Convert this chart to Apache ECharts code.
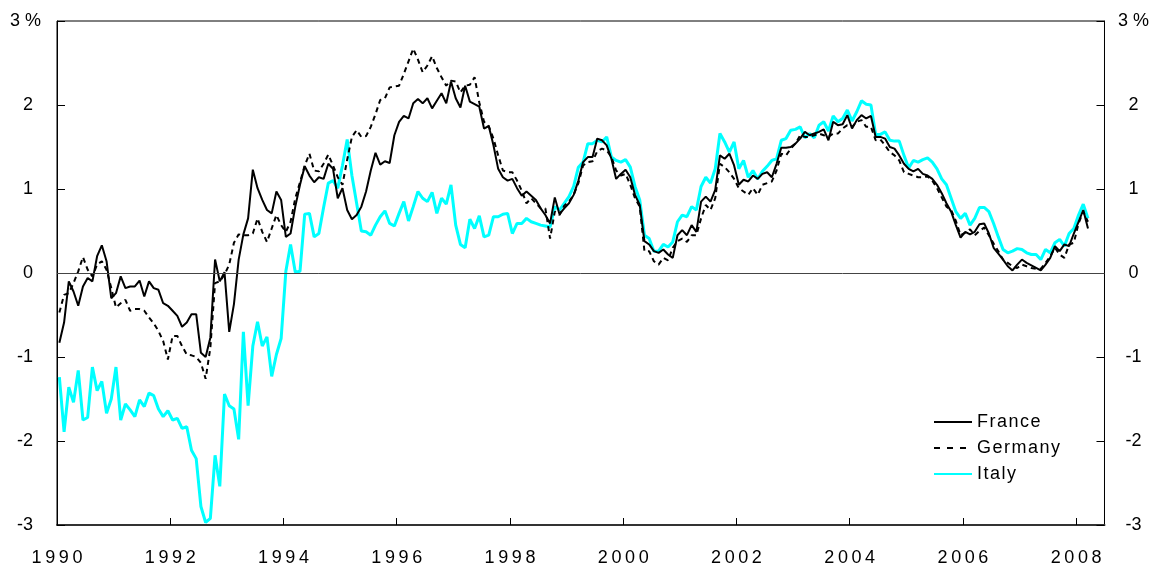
<!DOCTYPE html>
<html>
<head>
<meta charset="utf-8">
<script src="https://cdn.jsdelivr.net/npm/echarts@6/dist/echarts.min.js"></script>
<style>
html,body{margin:0;padding:0;background:#fff;}
#chart{width:1152px;height:567px;}
</style>
</head>
<body>
<div id="chart"></div>
<script>
// Monthly values, Jan 1990 .. Mar 2008 (percent)
const startYear = 1990;
const france = [
-0.83,-0.59,-0.10,-0.22,-0.39,-0.16,-0.06,-0.10,0.20,0.33,
0.14,-0.30,-0.24,-0.04,-0.18,-0.16,-0.16,-0.09,-0.28,-0.10,
-0.18,-0.20,-0.36,-0.39,-0.45,-0.51,-0.64,-0.59,-0.49,-0.49,
-0.95,-1.00,-0.77,0.16,-0.10,0.01,-0.70,-0.37,0.16,0.46,
0.65,1.23,1.01,0.87,0.75,0.71,0.97,0.87,0.43,0.47,
0.79,1.05,1.27,1.16,1.08,1.14,1.12,1.30,1.24,0.89,
1.01,0.75,0.64,0.69,0.79,0.97,1.22,1.43,1.29,1.33,
1.31,1.64,1.80,1.87,1.84,2.02,2.07,2.02,2.08,1.96,
2.05,2.14,2.02,2.28,2.08,1.97,2.23,2.04,2.01,1.98,
1.72,1.75,1.52,1.24,1.14,1.10,1.12,1.01,0.92,0.97,
0.92,0.87,0.77,0.69,0.59,0.90,0.70,0.77,0.83,0.93,
1.10,1.32,1.38,1.38,1.60,1.58,1.52,1.36,1.12,1.18,
1.23,1.14,0.93,0.81,0.38,0.34,0.26,0.24,0.28,0.22,
0.18,0.45,0.51,0.45,0.57,0.49,0.85,0.91,0.85,0.99,
1.40,1.36,1.42,1.28,1.05,1.11,1.09,1.16,1.12,1.18,
1.20,1.14,1.30,1.49,1.49,1.50,1.54,1.60,1.68,1.64,
1.66,1.68,1.71,1.58,1.80,1.76,1.77,1.88,1.72,1.82,
1.88,1.84,1.87,1.62,1.62,1.60,1.50,1.48,1.40,1.30,
1.24,1.21,1.24,1.18,1.16,1.12,1.05,0.95,0.83,0.73,
0.57,0.42,0.49,0.46,0.49,0.58,0.59,0.47,0.30,0.23,
0.16,0.08,0.03,0.10,0.16,0.12,0.09,0.06,0.03,0.10,
0.18,0.32,0.26,0.34,0.32,0.47,0.61,0.75,0.53
];
const germany = [
-0.47,-0.26,-0.24,-0.12,0.02,0.19,0.04,-0.04,0.10,0.14,
0.04,-0.18,-0.41,-0.36,-0.32,-0.45,-0.43,-0.43,-0.45,-0.53,
-0.60,-0.69,-0.81,-1.03,-0.75,-0.75,-0.87,-0.97,-0.98,-1.00,
-1.07,-1.26,-0.89,-0.12,-0.10,-0.02,0.10,0.36,0.46,0.45,
0.45,0.47,0.65,0.49,0.37,0.53,0.69,0.57,0.49,0.61,
0.89,1.08,1.28,1.42,1.22,1.21,1.30,1.41,1.28,1.14,
1.05,1.35,1.62,1.70,1.62,1.63,1.74,1.89,2.06,2.08,
2.21,2.22,2.23,2.37,2.52,2.67,2.54,2.39,2.47,2.58,
2.44,2.33,2.23,2.29,2.28,2.15,2.23,2.24,2.33,2.03,
1.80,1.75,1.60,1.40,1.22,1.20,1.20,1.10,0.98,0.83,
0.89,0.83,0.77,0.77,0.41,0.73,0.69,0.80,0.85,0.93,
1.07,1.28,1.32,1.33,1.45,1.48,1.46,1.38,1.22,1.16,
1.18,1.05,0.89,0.79,0.26,0.26,0.14,0.10,0.18,0.15,
0.30,0.38,0.41,0.37,0.45,0.45,0.65,0.81,0.75,0.89,
1.30,1.26,1.20,1.12,1.01,0.97,0.93,1.01,0.93,1.05,
1.07,1.09,1.22,1.42,1.40,1.48,1.54,1.64,1.62,1.62,
1.64,1.66,1.64,1.62,1.66,1.66,1.72,1.76,1.74,1.80,
1.82,1.74,1.74,1.58,1.59,1.52,1.44,1.40,1.34,1.20,
1.18,1.16,1.14,1.14,1.15,1.10,1.01,0.90,0.79,0.75,
0.62,0.45,0.48,0.52,0.45,0.50,0.54,0.45,0.35,0.26,
0.16,0.12,0.08,0.06,0.10,0.08,0.06,0.05,0.05,0.12,
0.20,0.30,0.22,0.18,0.34,0.36,0.59,0.73,0.61
];
const italy = [
-1.24,-1.89,-1.36,-1.54,-1.16,-1.75,-1.72,-1.12,-1.40,-1.29,
-1.67,-1.50,-1.12,-1.75,-1.56,-1.63,-1.71,-1.51,-1.59,-1.43,
-1.46,-1.62,-1.71,-1.64,-1.75,-1.73,-1.85,-1.83,-2.11,-2.21,
-2.78,-2.97,-2.92,-2.17,-2.54,-1.44,-1.58,-1.62,-1.98,-0.70,
-1.58,-0.87,-0.58,-0.87,-0.76,-1.23,-0.97,-0.78,0.02,0.34,
0.01,0.02,0.70,0.71,0.43,0.47,0.78,1.07,1.10,1.01,
1.28,1.59,1.16,0.83,0.50,0.49,0.45,0.57,0.67,0.74,
0.59,0.56,0.71,0.85,0.62,0.79,0.97,0.89,0.85,0.96,
0.71,0.89,0.82,1.05,0.57,0.34,0.30,0.64,0.53,0.68,
0.43,0.45,0.67,0.67,0.70,0.71,0.47,0.59,0.59,0.65,
0.61,0.59,0.57,0.56,0.55,0.79,0.75,0.83,0.91,1.03,
1.26,1.32,1.54,1.54,1.58,1.56,1.62,1.38,1.34,1.32,
1.35,1.26,1.03,0.87,0.45,0.41,0.26,0.26,0.34,0.31,
0.37,0.61,0.69,0.67,0.79,0.75,1.03,1.14,1.07,1.24,
1.66,1.56,1.44,1.56,1.24,1.34,1.14,1.22,1.12,1.21,
1.27,1.34,1.36,1.58,1.60,1.70,1.71,1.74,1.61,1.66,
1.61,1.76,1.80,1.69,1.87,1.80,1.84,1.94,1.81,1.92,
2.05,2.01,2.00,1.65,1.65,1.68,1.58,1.57,1.57,1.40,
1.25,1.34,1.32,1.35,1.37,1.32,1.24,1.12,1.05,0.89,
0.73,0.65,0.71,0.57,0.65,0.78,0.78,0.73,0.59,0.43,
0.28,0.24,0.26,0.29,0.28,0.24,0.22,0.22,0.16,0.28,
0.24,0.36,0.40,0.32,0.47,0.53,0.69,0.82,0.65
];
const yearTicks = [1990,1992,1994,1996,1998,2000,2002,2004,2006,2008];
const yTicks = [-3,-2,-1,0,1,2,3];

const FONT = "'Liberation Sans', Arial, Helvetica, sans-serif";
const toPairs = arr => arr.map((v, i) => [startYear + (i + 0.5) / 12, v]);
const spaced = (s, sep) => String(s).split('').join(sep);

const chart = echarts.init(document.getElementById('chart'), null, {renderer: 'canvas'});
chart.setOption({
  animation: false,
  backgroundColor: '#fff',
  grid: {left: 57, right: 40, top: 21, bottom: 39, show: true, borderColor: '#000', borderWidth: 1, backgroundColor: 'transparent'},
  legend: {
    orient: 'vertical', left: 928, top: 408,
    itemWidth: 38, itemHeight: 12, itemGap: 8,
    itemStyle: {opacity: 0, borderWidth: 0},
    data: [
      {name: 'France'},
      {name: 'Germany', lineStyle: {type: [6, 7], width: 2, color: '#000'}},
      {name: 'Italy'}
    ],
    formatter: n => spaced(n, '\u200A'),
    textStyle: {fontSize: 18, color: '#000', fontFamily: FONT}
  },
  xAxis: {
    type: 'value', min: 1990, max: 2008.5, interval: 2,
    axisLine: {onZero: false, lineStyle: {color: '#333', width: 2}},
    axisTick: {inside: true, length: 7, lineStyle: {color: '#000', width: 1}},
    axisLabel: {
      margin: 24, fontSize: 18, color: '#000', fontFamily: FONT, showMaxLabel: false,
      formatter: v => yearTicks.includes(v) ? spaced(v, '\u2009') : ''
    },
    splitLine: {show: false}
  },
  yAxis: [
    {
      type: 'value', min: -3, max: 3, interval: 1, position: 'left',
      axisLine: {show: true, lineStyle: {color: '#000', width: 1}},
      axisTick: {show: true, inside: true, length: 8, lineStyle: {color: '#000'}},
      splitLine: {show: false},
      axisLabel: {
        margin: 16, align: 'right',
        formatter: v => yTicks.includes(v) ? (v === 3 ? '{s|3 %}' : '{n|' + v + '}') : '',
        rich: {
          s: {fontSize: 18, color: '#000', fontFamily: FONT},
          n: {fontSize: 18, color: '#000', fontFamily: FONT, padding: [0, 8, 0, 0]}
        }
      }
    },
    {
      type: 'value', min: -3, max: 3, interval: 1, position: 'right',
      axisLine: {show: true, lineStyle: {color: '#000', width: 1}},
      axisTick: {show: true, inside: true, length: 8, lineStyle: {color: '#000'}},
      splitLine: {show: false},
      axisLabel: {
        margin: 29, align: 'center', fontSize: 18, color: '#000', fontFamily: FONT,
        formatter: v => yTicks.includes(v) ? (v === 3 ? '3 %' : String(v)) : ''
      }
    }
  ],
  series: [
    {
      name: 'France', type: 'line', data: toPairs(france), symbol: 'none', z: 3,
      lineStyle: {color: '#000', width: 2, type: 'solid'}, itemStyle: {color: '#000'},
      markLine: {
        silent: true, symbol: ['none', 'none'], label: {show: false},
        lineStyle: {color: '#444', width: 1, type: 'solid'},
        data: [{yAxis: 0}]
      }
    },
    {
      name: 'Germany', type: 'line', data: toPairs(germany), symbol: 'none', z: 3,
      lineStyle: {color: '#000', width: 2, type: [5, 4]}, itemStyle: {color: '#000'}
    },
    {
      name: 'Italy', type: 'line', data: toPairs(italy), symbol: 'none', z: 2,
      lineStyle: {color: '#00FFFF', width: 3, type: 'solid'}, itemStyle: {color: '#00FFFF'}
    }
  ]
});
</script>
</body>
</html>
